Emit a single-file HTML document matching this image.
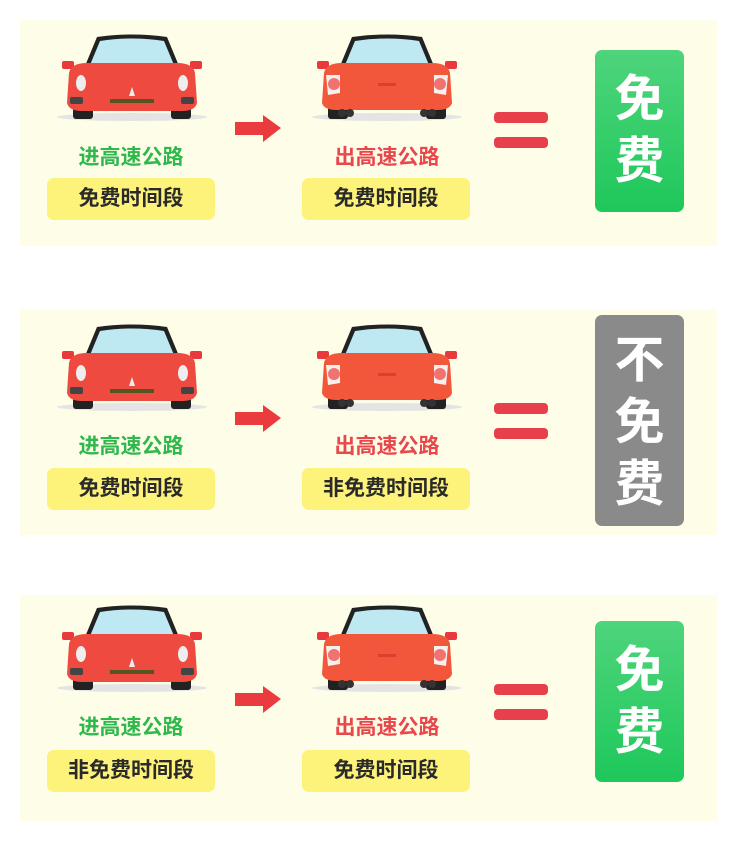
<!DOCTYPE html>
<html><head><meta charset="utf-8"><style>
body{margin:0;background:#fff;width:737px;height:848px;position:relative;overflow:hidden;font-family:"Liberation Sans","Noto Sans CJK SC",sans-serif}
.panel{position:absolute;left:20px;width:697px;height:226px;background:#fefde8}
.a{position:absolute}
.lbl{position:absolute;width:170px;text-align:center;font-size:21px;font-weight:bold}
.g{color:#2fb84c}.r{color:#e8474b}
.yb{position:absolute;width:168px;height:42px;background:#fdf27a;border-radius:7px;text-align:center;line-height:42px;font-size:21px;font-weight:bold;color:#2a2a2a}
.big{position:absolute;left:595px;width:89px;border-radius:7px;color:#fff;font-size:50px;font-weight:bold;text-align:center;line-height:62px}
.gr{background:linear-gradient(#4fd47c,#1ec85a)}
.gy{background:#8a8a8a}
</style></head><body>
<svg width="0" height="0" style="position:absolute">
<defs>
<g id="front">
<ellipse cx="75" cy="84" rx="75" ry="4" fill="#e4e4e4"/>
<rect x="16" y="64" width="20" height="22" rx="3" fill="#222"/>
<rect x="114" y="64" width="20" height="22" rx="3" fill="#222"/>
<path d="M28 33 L40 4 Q75 -1 110 4 L122 33 Z" fill="#222"/>
<path d="M33 32 L43 8 Q75 3 107 8 L117 32 Z" fill="#bfe9f2"/>
<rect x="5" y="28" width="12" height="8" rx="2" fill="#e8393c"/>
<rect x="133" y="28" width="12" height="8" rx="2" fill="#e8393c"/>
<path d="M12 40 Q14 30 30 30 L120 30 Q136 30 138 40 L140 70 Q138 78 125 78 L25 78 Q12 78 10 70 Z" fill="#ef4a40"/>
<ellipse cx="24" cy="50" rx="5" ry="8" fill="#eee"/>
<ellipse cx="126" cy="50" rx="5" ry="8" fill="#eee"/>
<polygon points="75,54 72,63 78,63" fill="#eee"/>
<rect x="53" y="66" width="44" height="4" fill="#552"/>
<rect x="13" y="64" width="13" height="7" rx="2" fill="#444"/>
<rect x="124" y="64" width="13" height="7" rx="2" fill="#444"/>
</g>
<g id="rear">
<ellipse cx="75" cy="84" rx="75" ry="4" fill="#e4e4e4"/>
<rect x="16" y="64" width="20" height="22" rx="3" fill="#222"/>
<rect x="114" y="64" width="20" height="22" rx="3" fill="#222"/>
<path d="M28 33 L40 4 Q75 -1 110 4 L122 33 Z" fill="#222"/>
<path d="M33 32 L43 8 Q75 3 107 8 L117 32 Z" fill="#bfe9f2"/>
<rect x="5" y="28" width="12" height="8" rx="2" fill="#e8393c"/>
<rect x="133" y="28" width="12" height="8" rx="2" fill="#e8393c"/>
<path d="M12 40 Q14 30 30 30 L120 30 Q136 30 138 40 L140 70 Q138 77 125 77 L25 77 Q12 77 10 70 Z" fill="#f2573c"/>
<path d="M14 42 L28 42 L28 60 L16 62 Z" fill="#f4f0ec"/>
<path d="M136 42 L122 42 L122 60 L134 62 Z" fill="#f4f0ec"/>
<circle cx="22" cy="51" r="6" fill="#f27272"/>
<circle cx="128" cy="51" r="6" fill="#f27272"/>
<rect x="66" y="50" width="18" height="3" fill="#d94030"/>
<circle cx="30" cy="80" r="4" fill="#333"/><circle cx="38" cy="80" r="4" fill="#333"/>
<circle cx="112" cy="80" r="4" fill="#333"/><circle cx="120" cy="80" r="4" fill="#333"/>
</g>
<g id="arr"><path d="M0 7 L28 7 L28 0 L46 13 L28 27 L28 20 L0 20 Z" fill="#ea3b3f"/></g>
<g id="eq"><rect x="0" y="0" width="54" height="11" rx="4" fill="#e8404a"/><rect x="0" y="25" width="54" height="11" rx="4" fill="#e8404a"/></g>
</defs></svg>

<div class="panel" style="top:20px"></div>
<div class="panel" style="top:309px"></div>
<div class="panel" style="top:595px"></div>

<!-- row 1 -->
<svg class="a" style="left:57px;top:33px" width="150" height="90"><use href="#front"/></svg>
<svg class="a" style="left:312px;top:33px" width="150" height="90"><use href="#rear"/></svg>
<svg class="a" style="left:235px;top:115px" width="47" height="28"><use href="#arr"/></svg>
<svg class="a" style="left:494px;top:112px" width="54" height="38"><use href="#eq"/></svg>
<div class="lbl g" style="left:46px;top:141px">进高速公路</div>
<div class="lbl r" style="left:302px;top:141px">出高速公路</div>
<div class="yb" style="left:47px;top:178px">免费时间段</div>
<div class="yb" style="left:302px;top:178px">免费时间段</div>
<div class="big gr" style="top:50px;height:162px;padding-top:18px;box-sizing:border-box">免<br>费</div>

<!-- row 2 -->
<svg class="a" style="left:57px;top:323px" width="150" height="90"><use href="#front"/></svg>
<svg class="a" style="left:312px;top:323px" width="150" height="90"><use href="#rear"/></svg>
<svg class="a" style="left:235px;top:405px" width="47" height="28"><use href="#arr"/></svg>
<svg class="a" style="left:494px;top:403px" width="54" height="38"><use href="#eq"/></svg>
<div class="lbl g" style="left:46px;top:430px">进高速公路</div>
<div class="lbl r" style="left:302px;top:430px">出高速公路</div>
<div class="yb" style="left:47px;top:468px">免费时间段</div>
<div class="yb" style="left:302px;top:468px">非免费时间段</div>
<div class="big gy" style="top:315px;height:211px;padding-top:14px;box-sizing:border-box">不<br>免<br>费</div>

<!-- row 3 -->
<svg class="a" style="left:57px;top:604px" width="150" height="90"><use href="#front"/></svg>
<svg class="a" style="left:312px;top:604px" width="150" height="90"><use href="#rear"/></svg>
<svg class="a" style="left:235px;top:686px" width="47" height="28"><use href="#arr"/></svg>
<svg class="a" style="left:494px;top:684px" width="54" height="38"><use href="#eq"/></svg>
<div class="lbl g" style="left:46px;top:711px">进高速公路</div>
<div class="lbl r" style="left:302px;top:711px">出高速公路</div>
<div class="yb" style="left:47px;top:750px">非免费时间段</div>
<div class="yb" style="left:302px;top:750px">免费时间段</div>
<div class="big gr" style="top:621px;height:161px;padding-top:18px;box-sizing:border-box">免<br>费</div>
</body></html>
